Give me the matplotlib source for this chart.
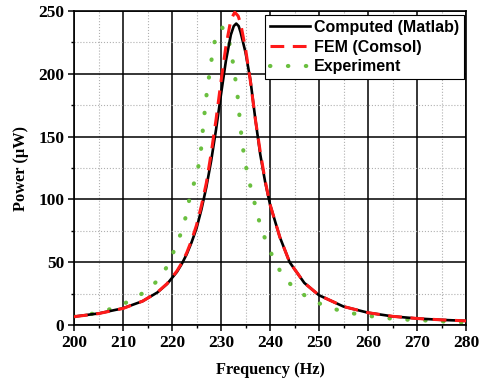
import matplotlib
matplotlib.use("Agg")
import matplotlib.pyplot as plt
from matplotlib.ticker import MultipleLocator

freq_matlab = [200, 205, 210, 214, 217, 219, 221, 222, 223, 224, 225, 226, 227, 228,
               229, 230, 231, 232, 232.6, 233.1, 233.6, 234, 235, 236, 237, 238, 239,
               240, 242, 244, 247, 250, 255, 260, 265, 270, 275, 280]
power_matlab = [6.7, 9.2, 13.3, 19.0, 25.9, 32.7, 42.3, 48.7, 56.4, 65.9, 77.0, 92.0,
                109.7, 131.0, 156.0, 183.7, 210.4, 231.0, 238.0, 240.0, 238.0, 233.0,
                217.0, 195.0, 164.0, 136.0, 114.0, 96.0, 70.0, 50.0, 33.5, 23.7, 14.7,
                9.8, 6.9, 5.2, 4.1, 3.3]

freq_fem = [200, 205, 210, 214, 217, 219, 221, 222, 223, 224, 225, 226, 227, 228,
            229, 230, 231, 232, 232.8, 233.5, 234, 235, 236, 237, 238, 239, 240, 242,
            244, 247, 250, 255, 260, 265, 270, 275, 280]
power_fem = [6.6, 9.1, 13.2, 19.0, 26.0, 33.0, 43.0, 49.5, 57.5, 67.5, 79.5, 95.0,
             113.0, 137.0, 164.0, 194.0, 222.0, 243.0, 249.0, 246.0, 240.0, 220.0,
             194.0, 164.0, 138.0, 115.0, 96.0, 70.0, 50.0, 33.5, 23.7, 14.7, 9.8, 6.9,
             5.2, 4.1, 3.3]

freq_exp = [200, 204.3, 207.7, 211.1, 214.3, 217.2, 219.2, 220.6, 222, 223, 223.7,
            225, 225.7, 226.1, 226.4, 226.8, 227.2, 227.8, 228.3, 229.1, 230.2, 231.2,
            232.1, 232.6, 233.2, 233.6, 233.9, 234.3, 234.8, 235.5, 236.5, 237.3, 238.3,
            239.7, 241.2, 243.1, 245.1, 248.2, 251.6, 255, 258.7, 262.4, 266.2, 269.9,
            273.7, 277, 280]
power_exp = [6.8, 9.3, 13.0, 18.6, 26.0, 35.8, 47.8, 61.0, 74.8, 89.0, 103.5, 119.0,
             132.7, 146.0, 161.0, 174.0, 189.0, 203.6, 218.0, 233.0, 237.0, 232.0, 218.0,
             204.0, 189.0, 174.0, 160.0, 146.0, 132.0, 118.0, 103.0, 89.7, 75.6, 61.8,
             48.6, 36.4, 29.2, 20.4, 14.6, 10.6, 8.0, 6.1, 4.5, 4.0, 3.2, 2.4, 2.0]

serif = "Liberation Serif"
sans = "Liberation Sans"


def setup_axes(ax):
    ax.set_xlim(200, 280)
    ax.set_ylim(0, 250)
    ax.xaxis.set_major_locator(MultipleLocator(10))
    ax.xaxis.set_minor_locator(MultipleLocator(5))
    ax.yaxis.set_major_locator(MultipleLocator(50))
    ax.yaxis.set_minor_locator(MultipleLocator(25))
    ax.grid(True, which="major", color="black", linewidth=1.1, zorder=0)
    ax.grid(True, which="minor", color="#b0b0b0", linestyle=":", linewidth=0.8, zorder=0)
    ax.set_axisbelow(True)
    ax.tick_params(which="major", direction="out", length=4, width=1.1, pad=3)
    ax.tick_params(which="minor", direction="out", length=2.2, width=1.0)
    for sp in ax.spines.values():
        sp.set_linewidth(1.2)
    for lab in ax.get_xticklabels() + ax.get_yticklabels():
        lab.set_fontfamily(serif)
        lab.set_fontweight("bold")
        lab.set_fontsize(12.5)
    ax.set_xlabel("Frequency (Hz)", fontfamily=serif, fontweight="bold", fontsize=11.8, labelpad=8)
    ax.set_ylabel("Power (\u03bcW)", fontfamily=serif, fontweight="bold", fontsize=11.8, labelpad=7)


def main():
    fig = plt.figure(figsize=(4.8, 3.86), dpi=100)
    ax = fig.add_axes([0.1542, 0.158, 0.8167, 0.8135])

    ax.plot(freq_matlab, power_matlab, color="black", linewidth=1.9,
            label="Computed (Matlab)", zorder=3)
    ax.plot(freq_fem, power_fem, color="#ff1a1a", linewidth=2.2,
            linestyle=(0, (4.5, 2.8)), label="FEM (Comsol)", zorder=4)
    ax.plot(freq_exp, power_exp, color="#6abf3f", linewidth=3.0,
            linestyle=(0, (0.1, 4.2)), dash_capstyle="round",
            label="Experiment", zorder=2)

    setup_axes(ax)

    leg = ax.legend(loc="upper right", bbox_to_anchor=(0.995, 0.987),
                    prop={"family": sans, "weight": "bold", "size": 11.5},
                    fancybox=False, framealpha=1, edgecolor="black",
                    handlelength=2.5, borderpad=0.3, labelspacing=0.3,
                    handletextpad=0.25, borderaxespad=0.0)
    leg.get_frame().set_linewidth(0.8)

    fig.savefig("out.png", dpi=100)


if __name__ == "__main__":
    main()
